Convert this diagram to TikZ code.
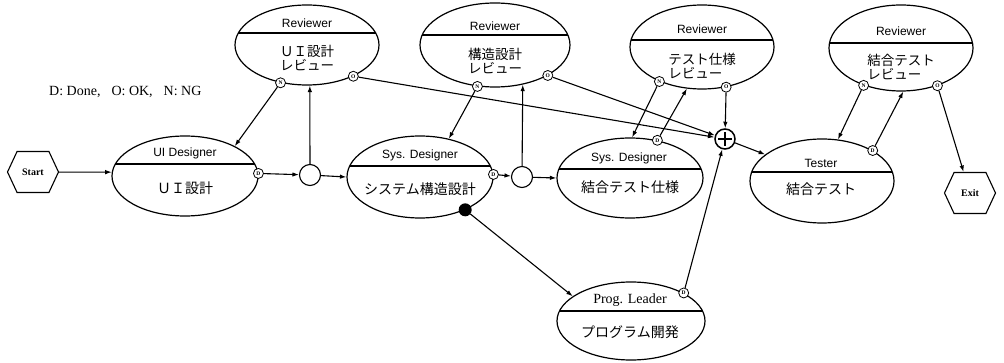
\documentclass[tikz,border=0pt]{standalone}
\usepackage{fontspec}
\setmainfont{Liberation Serif}
\newfontfamily\sansf{Liberation Sans}
\newfontfamily\jpf{Noto Sans CJK JP}
\usetikzlibrary{shapes.geometric,shapes.symbols,arrows.meta,calc}
\begin{document}
\begin{tikzpicture}[x=1pt,y=-1pt,
  act/.style n args={3}{draw, ellipse, inner sep=0pt, minimum width=#1, minimum height=#2, line width=1.2pt,
    path picture={\draw[line width=1.2pt] ([yshift=#3]path picture bounding box.west) -- ([yshift=#3]path picture bounding box.east);}},
  role/.style={inner sep=0pt, font=\sansf\fontsize{12}{12}\selectfont},
  task/.style={inner sep=0pt, font=\jpf\fontsize{14}{14}\selectfont},
  rtask/.style={inner sep=0pt, align=left, font=\jpf\fontsize{13.5}{14}\selectfont},
  mk/.style={circle, draw, fill=white, inner sep=0pt, minimum size=10pt, line width=0.8pt, font=\bfseries\fontsize{5.5}{5.5}\selectfont},
  jn/.style={circle, draw, fill=white, minimum size=21pt, inner sep=0pt, line width=1.1pt},
  plusc/.style={circle, draw, fill=white, minimum size=20pt, inner sep=0pt, line width=1.5pt},
  dotn/.style={circle, fill=black, minimum size=13pt, inner sep=0pt},
  hexs/.style={draw, signal, signal to=east and west, signal pointer angle=130, minimum width=51pt, minimum height=41pt, inner sep=0pt, line width=1.1pt, font=\bfseries\fontsize{10}{10}\selectfont},
  arr/.style={-{Latex[length=6.5pt,width=4.5pt]}, line width=1.1pt}
]
\useasboundingbox (0,0) rectangle (1004,363);

% terminals
\node[hexs] (start) at (33,172) {Start};
\node[hexs] (exit) at (970,193) {Exit};

% activities
\node[act={146pt}{80pt}{12pt}] (uid) at (185,176) {};
\node[act={144pt}{80pt}{12pt}] (rv1) at (307,45) {};
\node[act={150pt}{84pt}{10pt}] (rv2) at (495,45) {};
\node[act={144pt}{84pt}{7pt}] (rv3) at (702,47) {};
\node[act={144pt}{86pt}{5pt}] (rv4) at (901,48) {};
\node[act={146pt}{82pt}{11pt}] (sd1) at (420,177) {};
\node[act={146pt}{80pt}{9pt}] (sd2) at (630,178) {};
\node[act={144pt}{84pt}{9pt}] (ts) at (822,181) {};
\node[act={148pt}{78pt}{10pt}] (pl) at (631,321) {};

% texts
\node[role] (uidR) at (185,153) {UI Designer};
\node[task] (uidT) at (185,188) {ＵＩ設計};
\node[role] (rv1R) at (307,23) {Reviewer};
\node[rtask] (rv1T) at (307,58) {ＵＩ設計\\レビュー};
\node[role] (rv2R) at (495,26) {Reviewer};
\node[rtask] (rv2T) at (495,61) {構造設計\\レビュー};
\node[role] (rv3R) at (702,29) {Reviewer};
\node[rtask] (rv3T) at (702,66) {テスト仕様\\レビュー};
\node[role] (rv4R) at (901,31) {Reviewer};
\node[rtask] (rv4T) at (901,67) {結合テスト\\レビュー};
\node[role] (sd1R) at (420,155) {Sys. Designer};
\node[task] (sd1T) at (420,189) {システム構造設計};
\node[role] (sd2R) at (629,158) {Sys. Designer};
\node[task] (sd2T) at (630,187) {結合テスト仕様};
\node[role] (tsR) at (821,163) {Tester};
\node[task] (tsT) at (821,189) {結合テスト};
\node[inner sep=0pt, font=\fontsize{14}{14}\selectfont] (plR) at (630,300) {Prog. Leader};
\node[task] (plT) at (630,332) {プログラム開発};
\node[inner sep=0pt, anchor=west, font=\fontsize{14}{14}\selectfont] (legend) at (49,92) {D: Done,\hspace{11pt}O: OK,\hspace{11pt}N: NG};

% junctions
\node[jn] (j1) at (310,175) {};
\node[jn] (j2) at (522,177) {};
\node[plusc] (plus) at (725,139) {};
\draw[line width=1.5pt] ([yshift=7pt]plus.center) -- ([yshift=-7pt]plus.center);
\draw[line width=1.5pt] ([xshift=-7pt]plus.center) -- ([xshift=7pt]plus.center);

% markers
\node[mk] (rv1N) at (rv1.235) {N};
\node[mk] (rv1O) at (rv1.326) {O};
\node[mk] (rv2N) at (rv2.247) {N};
\node[mk] (rv2O) at (rv2.330) {O};
\node[mk] (rv3N) at (rv3.219) {N};
\node[mk] (rv3O) at (rv3.301) {O};
\node[mk] (rv4N) at (rv4.225) {N};
\node[mk] (rv4O) at (rv4.314) {O};
\node[mk] (uidD) at (uid.2) {D};
\node[mk] (sd1D) at (sd1.2) {D};
\node[mk] (sd2D) at (sd2.54) {D};
\node[mk] (tsD) at (ts.31) {D};
\node[mk] (plD) at (pl.28) {D};
\node[dotn] (sd1X) at (sd1.324) {};

% connectors
\draw[arr] (start) -- (uid.177);
\draw[arr] (uidD) -- (j1);
\draw[arr] (j1) -- (rv1.274);
\draw[arr] (j1) -- (sd1.west);
\draw[arr] (rv1N) -- (uid.31);
\draw[arr] (rv1O) -- (plus);
\draw[arr] (rv2N) -- (sd1.53);
\draw[arr] (sd1D) -- (j2);
\draw[arr] (j2) -- (rv2.305);
\draw[arr] (j2) -- (sd2.west);
\draw[arr] (rv2O) -- (plus);
\draw[arr] (rv3N) -- (sd2.87);
\draw[arr] (sd2D) -- (rv3.250);
\draw[arr] (rv3O) -- (plus);
\draw[arr] (plD) -- (plus);
\draw[arr] (sd1X) -- (pl.157);
\draw[arr] (plus) -- (ts.155);
\draw[arr] (rv4N) -- (ts.69);
\draw[arr] (tsD) -- (rv4.273);
\draw[arr] (rv4O) -- (exit);
\end{tikzpicture}
\end{document}
